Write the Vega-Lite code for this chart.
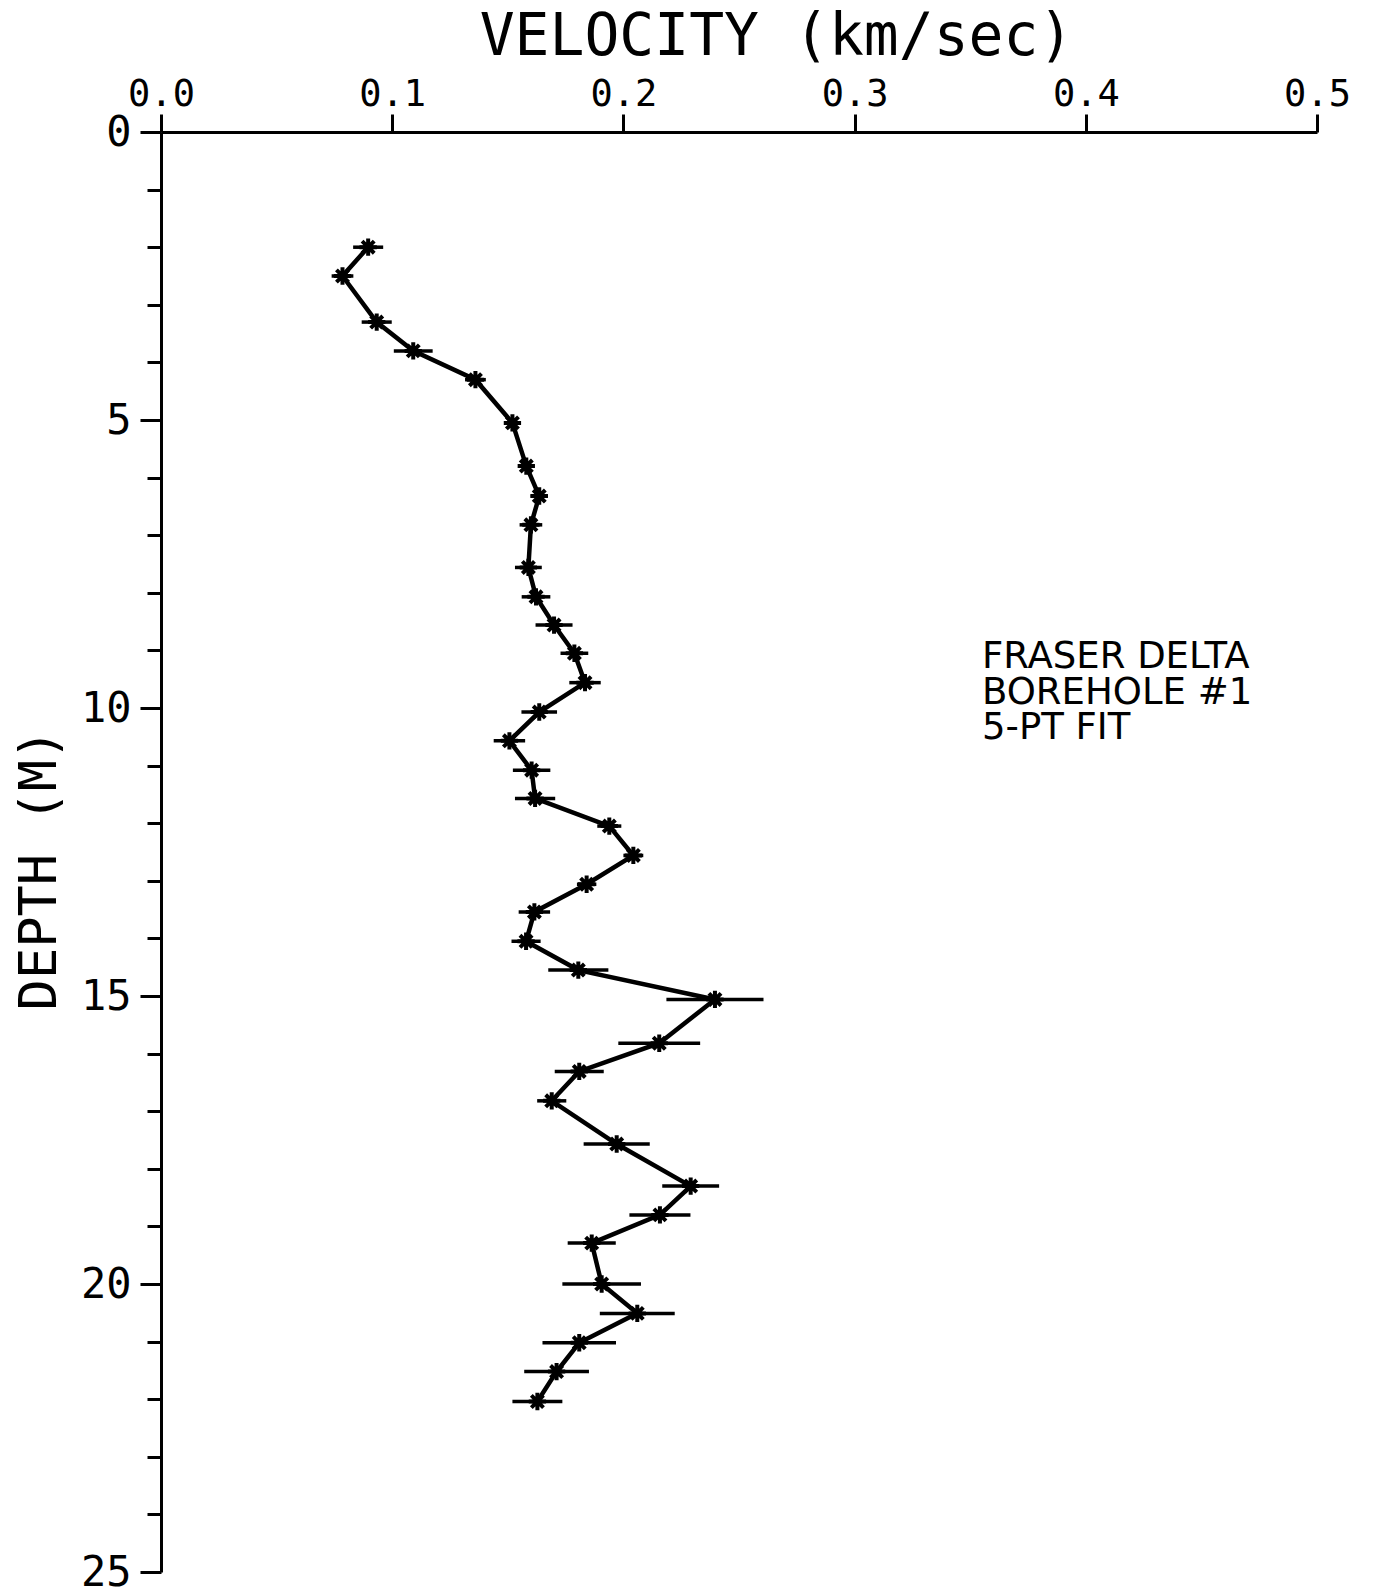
{
  "$schema": "https://vega.github.io/schema/vega-lite/v6.json",
  "width": 1156,
  "height": 1440,
  "autosize": "none",
  "padding": {"left": 161, "top": 132, "right": 57, "bottom": 23},
  "background": "white",
  "config": {
    "view": {"stroke": null},
    "axis": {
      "grid": false,
      "domainColor": "black",
      "domainWidth": 3,
      "tickColor": "black",
      "tickWidth": 3,
      "labelColor": "black",
      "titleColor": "black",
      "labelFont": "DejaVu Sans Mono",
      "titleFont": "DejaVu Sans Mono",
      "titleFontWeight": "normal",
      "labelFlush": false,
      "labelOverlap": false
    }
  },
  "datasets": {
    "pts": [
      {"depth": 2.0, "v": 0.0896, "lo": 0.0831, "hi": 0.0961},
      {"depth": 2.5, "v": 0.0785, "lo": 0.0738, "hi": 0.0832},
      {"depth": 3.3, "v": 0.0933, "lo": 0.0868, "hi": 0.0998},
      {"depth": 3.8, "v": 0.1091, "lo": 0.1007, "hi": 0.1175},
      {"depth": 4.3, "v": 0.136, "lo": 0.1315, "hi": 0.1405},
      {"depth": 5.05, "v": 0.152, "lo": 0.1486, "hi": 0.1554},
      {"depth": 5.8, "v": 0.158, "lo": 0.1546, "hi": 0.1614},
      {"depth": 6.32, "v": 0.1636, "lo": 0.1598, "hi": 0.1674},
      {"depth": 6.82, "v": 0.16, "lo": 0.1551, "hi": 0.1649},
      {"depth": 7.56, "v": 0.1589, "lo": 0.1531, "hi": 0.1647},
      {"depth": 8.07, "v": 0.1622, "lo": 0.156, "hi": 0.1684},
      {"depth": 8.56, "v": 0.17, "lo": 0.162, "hi": 0.178},
      {"depth": 9.05, "v": 0.1788, "lo": 0.1728, "hi": 0.1848},
      {"depth": 9.56, "v": 0.1834, "lo": 0.1766, "hi": 0.1902},
      {"depth": 10.07, "v": 0.1636, "lo": 0.1559, "hi": 0.1713},
      {"depth": 10.57, "v": 0.1507, "lo": 0.1439, "hi": 0.1575},
      {"depth": 11.08, "v": 0.1603, "lo": 0.1522, "hi": 0.1684},
      {"depth": 11.57, "v": 0.1618, "lo": 0.1531, "hi": 0.1705},
      {"depth": 12.05, "v": 0.1939, "lo": 0.1887, "hi": 0.1991},
      {"depth": 12.56, "v": 0.2043, "lo": 0.2, "hi": 0.2086},
      {"depth": 13.06, "v": 0.1841, "lo": 0.1799, "hi": 0.1883},
      {"depth": 13.54, "v": 0.1615, "lo": 0.1547, "hi": 0.1683},
      {"depth": 14.05, "v": 0.1579, "lo": 0.1516, "hi": 0.1642},
      {"depth": 14.55, "v": 0.1805, "lo": 0.1675, "hi": 0.1935},
      {"depth": 15.06, "v": 0.2396, "lo": 0.2186, "hi": 0.2606},
      {"depth": 15.82, "v": 0.2155, "lo": 0.1978, "hi": 0.2332},
      {"depth": 16.31, "v": 0.1809, "lo": 0.1703, "hi": 0.1915},
      {"depth": 16.82, "v": 0.169, "lo": 0.1627, "hi": 0.1753},
      {"depth": 17.57, "v": 0.1971, "lo": 0.1828, "hi": 0.2114},
      {"depth": 18.3, "v": 0.2291, "lo": 0.2168, "hi": 0.2414},
      {"depth": 18.8, "v": 0.2158, "lo": 0.2026, "hi": 0.229},
      {"depth": 19.29, "v": 0.1863, "lo": 0.1759, "hi": 0.1967},
      {"depth": 20.0, "v": 0.1906, "lo": 0.1736, "hi": 0.2076},
      {"depth": 20.51, "v": 0.206, "lo": 0.1898, "hi": 0.2222},
      {"depth": 21.02, "v": 0.1809, "lo": 0.165, "hi": 0.1968},
      {"depth": 21.52, "v": 0.1711, "lo": 0.1571, "hi": 0.1851},
      {"depth": 22.04, "v": 0.1628, "lo": 0.152, "hi": 0.1736}
    ],
    "note": [
      {"x": 0.3551, "y": 9.31, "t": ["FRASER DELTA", "BOREHOLE #1", "5-PT FIT"]}
    ]
  },
  "layer": [
    {
      "data": {"name": "pts"},
      "mark": {"type": "rule", "color": "black", "strokeWidth": 3.5},
      "encoding": {
        "x": {
          "field": "lo",
          "type": "quantitative",
          "title": "VELOCITY (km/sec)",
          "scale": {"domain": [0, 0.5], "nice": false, "zero": false},
          "axis": {
            "orient": "top",
            "values": [0, 0.1, 0.2, 0.3, 0.4, 0.5],
            "format": ".1f",
            "tickSize": 18,
            "labelFontSize": 37,
            "labelPadding": 9,
            "labelBaseline": "alphabetic",
            "titleFontSize": 58,
            "titleX": 615,
            "titleY": -78,
            "titleBaseline": "alphabetic",
            "titleAlign": "center"
          }
        },
        "x2": {"field": "hi"},
        "y": {
          "field": "depth",
          "type": "quantitative",
          "title": "DEPTH (M)",
          "scale": {"domain": [0, 25], "reverse": true, "nice": false},
          "axis": {
            "values": [0, 1, 2, 3, 4, 5, 6, 7, 8, 9, 10, 11, 12, 13, 14, 15, 16, 17, 18, 19, 20, 21, 22, 23, 24, 25],
            "format": "d",
            "tickSize": {"condition": {"test": "datum.value % 5 === 0", "value": 21}, "value": 14},
            "labelExpr": "datum.value % 5 === 0 ? datum.label : ''",
            "labelFontSize": 42,
            "labelPadding": 9,
            "titleFontSize": 52,
            "titleX": -106,
            "titleY": 737,
            "titleAngle": 270,
            "titleBaseline": "alphabetic",
            "titleAlign": "center"
          }
        }
      }
    },
    {
      "data": {"name": "pts"},
      "mark": {"type": "line", "color": "black", "strokeWidth": 4.5},
      "encoding": {
        "x": {"field": "v", "type": "quantitative", "title": "VELOCITY (km/sec)"},
        "y": {"field": "depth", "type": "quantitative", "title": "DEPTH (M)"},
        "order": {"field": "depth", "type": "quantitative"}
      }
    },
    {
      "data": {"name": "pts"},
      "mark": {
        "type": "point",
        "shape": "M-1,0L1,0M0,-1L0,1M-0.7,-0.7L0.7,0.7M-0.7,0.7L0.7,-0.7",
        "filled": false,
        "stroke": "black",
        "strokeWidth": 4,
        "size": 300,
        "opacity": 1
      },
      "encoding": {
        "x": {"field": "v", "type": "quantitative", "title": "VELOCITY (km/sec)"},
        "y": {"field": "depth", "type": "quantitative", "title": "DEPTH (M)"}
      }
    },
    {
      "data": {"name": "note"},
      "mark": {"type": "text", "align": "left", "baseline": "alphabetic", "font": "DejaVu Sans", "fontSize": 37, "lineHeight": 35.5, "color": "black"},
      "encoding": {
        "x": {"field": "x", "type": "quantitative", "title": "VELOCITY (km/sec)"},
        "y": {"field": "y", "type": "quantitative", "title": "DEPTH (M)"},
        "text": {"field": "t"}
      }
    }
  ]
}
